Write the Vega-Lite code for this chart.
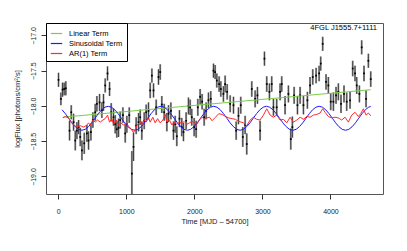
{
"$schema": "https://vega.github.io/schema/vega-lite/v6.json",
"width": 337, "height": 171,
"autosize": {"type": "none"},
"padding": {"left": 46, "top": 23, "right": 24, "bottom": 57},
"background": "white",
"title": {"text": "4FGL J1555.7+1111", "anchor": "end", "frame": "group", "offset": -9, "dx": -6, "fontSize": 7.5, "fontWeight": "normal", "font": "Liberation Sans", "color": "black"},
"config": {
  "font": "Liberation Sans",
  "view": {"stroke": "#555", "strokeWidth": 1},
  "legend": {"orient": "top-left", "offset": 0, "symbolType": "stroke", "symbolSize": 130, "symbolStrokeWidth": 1.2, "labelFontSize": 7.5, "labelColor": "black", "strokeColor": "black", "fillColor": "white", "padding": 4, "rowPadding": -2, "labelOffset": 6, "labelLimit": 0, "cornerRadius": 0}
},
"datasets": {
"pts": [
{"t":4,"v":-17.63,"e":0.10},{"t":39,"v":-17.90,"e":0.09},{"t":63,"v":-17.77,"e":0.10},{"t":87,"v":-17.76,"e":0.09},{"t":111,"v":-17.75,"e":0.10},
{"t":166,"v":-18.35,"e":0.14},{"t":191,"v":-18.09,"e":0.10},{"t":225,"v":-18.23,"e":0.12},{"t":250,"v":-18.49,"e":0.14},{"t":274,"v":-18.35,"e":0.12},
{"t":299,"v":-18.30,"e":0.10},{"t":323,"v":-18.44,"e":0.13},{"t":348,"v":-18.63,"e":0.14},{"t":382,"v":-18.53,"e":0.15},{"t":421,"v":-18.39,"e":0.12},
{"t":445,"v":-18.49,"e":0.13},{"t":480,"v":-18.37,"e":0.12},{"t":509,"v":-18.20,"e":0.11},{"t":543,"v":-18.09,"e":0.12},{"t":568,"v":-17.97,"e":0.11},
{"t":607,"v":-17.95,"e":0.12},{"t":641,"v":-18.06,"e":0.11},{"t":665,"v":-17.95,"e":0.12},{"t":690,"v":-17.71,"e":0.10},{"t":724,"v":-17.54,"e":0.10},
{"t":754,"v":-17.76,"e":0.10},{"t":778,"v":-18.09,"e":0.13},{"t":812,"v":-18.16,"e":0.12},{"t":837,"v":-18.26,"e":0.13},{"t":861,"v":-18.33,"e":0.12},
{"t":886,"v":-18.31,"e":0.13},{"t":910,"v":-18.20,"e":0.12},{"t":950,"v":-18.13,"e":0.11},{"t":984,"v":-18.39,"e":0.13},{"t":1008,"v":-18.26,"e":0.12},
{"t":1043,"v":-18.13,"e":0.11},{"t":1082,"v":-18.96,"e":0.32},{"t":1106,"v":-18.58,"e":0.20},{"t":1145,"v":-18.28,"e":0.12},{"t":1180,"v":-18.23,"e":0.13},
{"t":1204,"v":-18.16,"e":0.11},{"t":1228,"v":-18.35,"e":0.13},{"t":1263,"v":-18.21,"e":0.12},{"t":1292,"v":-18.09,"e":0.11},{"t":1326,"v":-18.07,"e":0.12},
{"t":1351,"v":-17.78,"e":0.11},{"t":1376,"v":-17.57,"e":0.10},{"t":1400,"v":-17.78,"e":0.10},{"t":1439,"v":-18.02,"e":0.11},{"t":1473,"v":-17.59,"e":0.11},
{"t":1498,"v":-17.52,"e":0.11},{"t":1522,"v":-17.98,"e":0.12},{"t":1557,"v":-18.09,"e":0.12},{"t":1596,"v":-18.23,"e":0.13},{"t":1620,"v":-18.11,"e":0.12},
{"t":1655,"v":-18.07,"e":0.12},{"t":1693,"v":-18.35,"e":0.13},{"t":1718,"v":-18.26,"e":0.12},{"t":1742,"v":-18.43,"e":0.14},{"t":1781,"v":-18.18,"e":0.12},
{"t":1815,"v":-18.30,"e":0.13},{"t":1840,"v":-18.37,"e":0.13},{"t":1879,"v":-18.21,"e":0.12},{"t":1913,"v":-18.00,"e":0.12},{"t":1938,"v":-18.02,"e":0.11},
{"t":1962,"v":-18.16,"e":0.12},{"t":1997,"v":-18.30,"e":0.13},{"t":2026,"v":-18.33,"e":0.12},{"t":2051,"v":-18.02,"e":0.12},{"t":2085,"v":-17.87,"e":0.11},
{"t":2114,"v":-17.94,"e":0.11},{"t":2144,"v":-18.16,"e":0.12},{"t":2173,"v":-18.07,"e":0.12},{"t":2207,"v":-17.92,"e":0.11},{"t":2241,"v":-17.90,"e":0.11},
{"t":2281,"v":-17.50,"e":0.10},{"t":2305,"v":-17.52,"e":0.10},{"t":2330,"v":-17.64,"e":0.10},{"t":2364,"v":-17.69,"e":0.11},{"t":2389,"v":-17.76,"e":0.11},
{"t":2427,"v":-17.83,"e":0.11},{"t":2452,"v":-17.69,"e":0.12},{"t":2482,"v":-17.80,"e":0.11},{"t":2526,"v":-17.97,"e":0.12},{"t":2575,"v":-17.99,"e":0.12},
{"t":2614,"v":-18.35,"e":0.13},{"t":2648,"v":-18.14,"e":0.12},{"t":2682,"v":-17.99,"e":0.12},{"t":2712,"v":-18.44,"e":0.14},{"t":2746,"v":-18.27,"e":0.13},
{"t":2770,"v":-18.54,"e":0.15},{"t":2844,"v":-17.76,"e":0.11},{"t":2893,"v":-17.90,"e":0.12},{"t":2927,"v":-17.85,"e":0.12},{"t":2966,"v":-18.35,"e":0.14},
{"t":3030,"v":-17.33,"e":0.10},{"t":3064,"v":-17.69,"e":0.11},{"t":3103,"v":-17.80,"e":0.12},{"t":3137,"v":-17.69,"e":0.11},{"t":3162,"v":-18.02,"e":0.12},
{"t":3210,"v":-18.02,"e":0.12},{"t":3260,"v":-17.80,"e":0.12},{"t":3284,"v":-17.69,"e":0.11},{"t":3333,"v":-17.99,"e":0.13},{"t":3382,"v":-17.83,"e":0.12},
{"t":3417,"v":-18.47,"e":0.15},{"t":3440,"v":-18.30,"e":0.15},{"t":3466,"v":-17.85,"e":0.12},{"t":3515,"v":-17.99,"e":0.13},{"t":3554,"v":-17.85,"e":0.12},
{"t":3603,"v":-17.99,"e":0.13},{"t":3661,"v":-17.92,"e":0.12},{"t":3700,"v":-17.71,"e":0.12},{"t":3740,"v":-17.59,"e":0.11},{"t":3789,"v":-17.57,"e":0.11},
{"t":3833,"v":-17.54,"e":0.11},{"t":3857,"v":-17.40,"e":0.10},{"t":3886,"v":-17.12,"e":0.10},{"t":3935,"v":-17.66,"e":0.11},{"t":3969,"v":-17.71,"e":0.12},
{"t":4004,"v":-17.94,"e":0.12},{"t":4043,"v":-17.94,"e":0.13},{"t":4082,"v":-17.85,"e":0.12},{"t":4116,"v":-17.80,"e":0.12},{"t":4155,"v":-17.97,"e":0.13},
{"t":4199,"v":-17.83,"e":0.12},{"t":4239,"v":-17.94,"e":0.13},{"t":4288,"v":-17.92,"e":0.12},{"t":4327,"v":-17.47,"e":0.11},{"t":4361,"v":-17.54,"e":0.11},
{"t":4386,"v":-17.71,"e":0.12},{"t":4425,"v":-17.83,"e":0.12},{"t":4459,"v":-17.17,"e":0.10},{"t":4493,"v":-17.54,"e":0.11},{"t":4523,"v":-17.90,"e":0.12},
{"t":4557,"v":-17.36,"e":0.10},{"t":4592,"v":-17.62,"e":0.11}
],
"curves": [
{"term":"Linear Term","t":63,"v":-18.16},{"term":"Linear Term","t":4592,"v":-17.77},
{"term":"Sinusoidal Term","t":56,"v":-18.055},{"term":"Sinusoidal Term","t":104,"v":-18.110},{"term":"Sinusoidal Term","t":153,"v":-18.175},{"term":"Sinusoidal Term","t":201,"v":-18.240},
{"term":"Sinusoidal Term","t":250,"v":-18.295},{"term":"Sinusoidal Term","t":298,"v":-18.332},{"term":"Sinusoidal Term","t":347,"v":-18.345},{"term":"Sinusoidal Term","t":395,"v":-18.332},
{"term":"Sinusoidal Term","t":443,"v":-18.295},{"term":"Sinusoidal Term","t":492,"v":-18.240},{"term":"Sinusoidal Term","t":540,"v":-18.175},{"term":"Sinusoidal Term","t":589,"v":-18.110},
{"term":"Sinusoidal Term","t":637,"v":-18.055},{"term":"Sinusoidal Term","t":686,"v":-18.018},
{"term":"Sinusoidal Term","t":734,"v":-18.005},{"term":"Sinusoidal Term","t":782,"v":-18.018},{"term":"Sinusoidal Term","t":831,"v":-18.055},{"term":"Sinusoidal Term","t":879,"v":-18.110},
{"term":"Sinusoidal Term","t":928,"v":-18.175},{"term":"Sinusoidal Term","t":976,"v":-18.240},{"term":"Sinusoidal Term","t":1025,"v":-18.295},{"term":"Sinusoidal Term","t":1073,"v":-18.332},
{"term":"Sinusoidal Term","t":1122,"v":-18.345},{"term":"Sinusoidal Term","t":1170,"v":-18.332},{"term":"Sinusoidal Term","t":1218,"v":-18.295},{"term":"Sinusoidal Term","t":1267,"v":-18.240},
{"term":"Sinusoidal Term","t":1315,"v":-18.175},{"term":"Sinusoidal Term","t":1364,"v":-18.110},{"term":"Sinusoidal Term","t":1412,"v":-18.055},{"term":"Sinusoidal Term","t":1461,"v":-18.018},
{"term":"Sinusoidal Term","t":1509,"v":-18.005},{"term":"Sinusoidal Term","t":1557,"v":-18.018},{"term":"Sinusoidal Term","t":1606,"v":-18.055},{"term":"Sinusoidal Term","t":1654,"v":-18.110},
{"term":"Sinusoidal Term","t":1703,"v":-18.175},{"term":"Sinusoidal Term","t":1751,"v":-18.240},{"term":"Sinusoidal Term","t":1800,"v":-18.295},{"term":"Sinusoidal Term","t":1848,"v":-18.332},
{"term":"Sinusoidal Term","t":1897,"v":-18.345},{"term":"Sinusoidal Term","t":1945,"v":-18.332},{"term":"Sinusoidal Term","t":1993,"v":-18.295},{"term":"Sinusoidal Term","t":2042,"v":-18.240},
{"term":"Sinusoidal Term","t":2090,"v":-18.175},{"term":"Sinusoidal Term","t":2139,"v":-18.110},{"term":"Sinusoidal Term","t":2187,"v":-18.055},{"term":"Sinusoidal Term","t":2236,"v":-18.018},
{"term":"Sinusoidal Term","t":2284,"v":-18.005},{"term":"Sinusoidal Term","t":2332,"v":-18.018},{"term":"Sinusoidal Term","t":2381,"v":-18.055},{"term":"Sinusoidal Term","t":2429,"v":-18.110},
{"term":"Sinusoidal Term","t":2478,"v":-18.175},{"term":"Sinusoidal Term","t":2526,"v":-18.240},{"term":"Sinusoidal Term","t":2575,"v":-18.295},{"term":"Sinusoidal Term","t":2623,"v":-18.332},
{"term":"Sinusoidal Term","t":2672,"v":-18.345},{"term":"Sinusoidal Term","t":2720,"v":-18.332},{"term":"Sinusoidal Term","t":2768,"v":-18.295},{"term":"Sinusoidal Term","t":2817,"v":-18.240},
{"term":"Sinusoidal Term","t":2865,"v":-18.175},{"term":"Sinusoidal Term","t":2914,"v":-18.110},{"term":"Sinusoidal Term","t":2962,"v":-18.055},{"term":"Sinusoidal Term","t":3011,"v":-18.018},
{"term":"Sinusoidal Term","t":3059,"v":-18.005},{"term":"Sinusoidal Term","t":3107,"v":-18.018},{"term":"Sinusoidal Term","t":3156,"v":-18.055},{"term":"Sinusoidal Term","t":3204,"v":-18.110},
{"term":"Sinusoidal Term","t":3253,"v":-18.175},{"term":"Sinusoidal Term","t":3301,"v":-18.240},{"term":"Sinusoidal Term","t":3350,"v":-18.295},{"term":"Sinusoidal Term","t":3398,"v":-18.332},
{"term":"Sinusoidal Term","t":3447,"v":-18.345},{"term":"Sinusoidal Term","t":3495,"v":-18.332},{"term":"Sinusoidal Term","t":3543,"v":-18.295},{"term":"Sinusoidal Term","t":3592,"v":-18.240},
{"term":"Sinusoidal Term","t":3640,"v":-18.175},{"term":"Sinusoidal Term","t":3689,"v":-18.110},{"term":"Sinusoidal Term","t":3737,"v":-18.055},{"term":"Sinusoidal Term","t":3786,"v":-18.018},
{"term":"Sinusoidal Term","t":3834,"v":-18.005},{"term":"Sinusoidal Term","t":3882,"v":-18.018},{"term":"Sinusoidal Term","t":3931,"v":-18.055},{"term":"Sinusoidal Term","t":3979,"v":-18.110},
{"term":"Sinusoidal Term","t":4028,"v":-18.175},{"term":"Sinusoidal Term","t":4076,"v":-18.240},{"term":"Sinusoidal Term","t":4125,"v":-18.295},{"term":"Sinusoidal Term","t":4173,"v":-18.332},
{"term":"Sinusoidal Term","t":4222,"v":-18.345},{"term":"Sinusoidal Term","t":4270,"v":-18.332},{"term":"Sinusoidal Term","t":4318,"v":-18.295},{"term":"Sinusoidal Term","t":4367,"v":-18.240},
{"term":"Sinusoidal Term","t":4415,"v":-18.175},{"term":"Sinusoidal Term","t":4464,"v":-18.110},{"term":"Sinusoidal Term","t":4512,"v":-18.055},{"term":"Sinusoidal Term","t":4561,"v":-18.018},
{"term":"Sinusoidal Term","t":4592,"v":-18.008},
{"term":"AR(1) Term","t":69,"v":-18.17},{"term":"AR(1) Term","t":103,"v":-18.15},{"term":"AR(1) Term","t":152,"v":-18.17},{"term":"AR(1) Term","t":186,"v":-18.23},
{"term":"AR(1) Term","t":225,"v":-18.27},{"term":"AR(1) Term","t":274,"v":-18.30},{"term":"AR(1) Term","t":323,"v":-18.28},{"term":"AR(1) Term","t":372,"v":-18.30},
{"term":"AR(1) Term","t":411,"v":-18.28},{"term":"AR(1) Term","t":445,"v":-18.24},{"term":"AR(1) Term","t":470,"v":-18.27},{"term":"AR(1) Term","t":509,"v":-18.20},
{"term":"AR(1) Term","t":543,"v":-18.23},{"term":"AR(1) Term","t":577,"v":-18.20},{"term":"AR(1) Term","t":617,"v":-18.23},{"term":"AR(1) Term","t":656,"v":-18.20},
{"term":"AR(1) Term","t":690,"v":-18.18},{"term":"AR(1) Term","t":724,"v":-18.13},{"term":"AR(1) Term","t":754,"v":-18.23},{"term":"AR(1) Term","t":788,"v":-18.18},
{"term":"AR(1) Term","t":812,"v":-18.26},{"term":"AR(1) Term","t":851,"v":-18.20},{"term":"AR(1) Term","t":886,"v":-18.27},{"term":"AR(1) Term","t":920,"v":-18.24},
{"term":"AR(1) Term","t":959,"v":-18.27},{"term":"AR(1) Term","t":998,"v":-18.24},{"term":"AR(1) Term","t":1033,"v":-18.29},{"term":"AR(1) Term","t":1067,"v":-18.32},
{"term":"AR(1) Term","t":1106,"v":-18.38},{"term":"AR(1) Term","t":1136,"v":-18.32},{"term":"AR(1) Term","t":1165,"v":-18.26},{"term":"AR(1) Term","t":1204,"v":-18.23},
{"term":"AR(1) Term","t":1228,"v":-18.27},{"term":"AR(1) Term","t":1263,"v":-18.20},{"term":"AR(1) Term","t":1292,"v":-18.23},{"term":"AR(1) Term","t":1326,"v":-18.17},
{"term":"AR(1) Term","t":1351,"v":-18.23},{"term":"AR(1) Term","t":1390,"v":-18.16},{"term":"AR(1) Term","t":1424,"v":-18.24},{"term":"AR(1) Term","t":1459,"v":-18.18},
{"term":"AR(1) Term","t":1498,"v":-18.24},{"term":"AR(1) Term","t":1537,"v":-18.20},{"term":"AR(1) Term","t":1571,"v":-18.12},{"term":"AR(1) Term","t":1596,"v":-18.23},
{"term":"AR(1) Term","t":1635,"v":-18.20},{"term":"AR(1) Term","t":1669,"v":-18.27},{"term":"AR(1) Term","t":1704,"v":-18.23},{"term":"AR(1) Term","t":1742,"v":-18.26},
{"term":"AR(1) Term","t":1781,"v":-18.23},{"term":"AR(1) Term","t":1815,"v":-18.25},{"term":"AR(1) Term","t":1850,"v":-18.22},{"term":"AR(1) Term","t":1889,"v":-18.26},
{"term":"AR(1) Term","t":1928,"v":-18.24},{"term":"AR(1) Term","t":1962,"v":-18.22},{"term":"AR(1) Term","t":1997,"v":-18.24},{"term":"AR(1) Term","t":2036,"v":-18.26},
{"term":"AR(1) Term","t":2075,"v":-18.20},{"term":"AR(1) Term","t":2114,"v":-18.16},{"term":"AR(1) Term","t":2144,"v":-18.19},{"term":"AR(1) Term","t":2183,"v":-18.17},
{"term":"AR(1) Term","t":2222,"v":-18.16},{"term":"AR(1) Term","t":2261,"v":-18.21},{"term":"AR(1) Term","t":2310,"v":-18.16},{"term":"AR(1) Term","t":2359,"v":-18.11},
{"term":"AR(1) Term","t":2408,"v":-18.12},{"term":"AR(1) Term","t":2457,"v":-18.15},{"term":"AR(1) Term","t":2506,"v":-18.17},{"term":"AR(1) Term","t":2555,"v":-18.18},
{"term":"AR(1) Term","t":2604,"v":-18.19},{"term":"AR(1) Term","t":2653,"v":-18.22},{"term":"AR(1) Term","t":2722,"v":-18.24},{"term":"AR(1) Term","t":2770,"v":-18.28},
{"term":"AR(1) Term","t":2819,"v":-18.20},{"term":"AR(1) Term","t":2868,"v":-18.16},{"term":"AR(1) Term","t":2917,"v":-18.19},{"term":"AR(1) Term","t":2966,"v":-18.20},
{"term":"AR(1) Term","t":3015,"v":-18.13},{"term":"AR(1) Term","t":3064,"v":-18.04},{"term":"AR(1) Term","t":3113,"v":-18.13},{"term":"AR(1) Term","t":3162,"v":-18.16},
{"term":"AR(1) Term","t":3210,"v":-18.13},{"term":"AR(1) Term","t":3260,"v":-18.20},{"term":"AR(1) Term","t":3309,"v":-18.19},{"term":"AR(1) Term","t":3358,"v":-18.24},
{"term":"AR(1) Term","t":3407,"v":-18.16},{"term":"AR(1) Term","t":3456,"v":-18.23},{"term":"AR(1) Term","t":3505,"v":-18.20},{"term":"AR(1) Term","t":3554,"v":-18.16},
{"term":"AR(1) Term","t":3603,"v":-18.19},{"term":"AR(1) Term","t":3652,"v":-18.15},{"term":"AR(1) Term","t":3700,"v":-18.16},{"term":"AR(1) Term","t":3750,"v":-18.13},
{"term":"AR(1) Term","t":3799,"v":-18.12},{"term":"AR(1) Term","t":3848,"v":-18.10},{"term":"AR(1) Term","t":3886,"v":-18.04},{"term":"AR(1) Term","t":3920,"v":-18.09},
{"term":"AR(1) Term","t":3969,"v":-18.15},{"term":"AR(1) Term","t":4018,"v":-18.17},{"term":"AR(1) Term","t":4067,"v":-18.16},{"term":"AR(1) Term","t":4116,"v":-18.17},
{"term":"AR(1) Term","t":4165,"v":-18.20},{"term":"AR(1) Term","t":4214,"v":-18.16},{"term":"AR(1) Term","t":4263,"v":-18.23},{"term":"AR(1) Term","t":4312,"v":-18.13},
{"term":"AR(1) Term","t":4361,"v":-18.09},{"term":"AR(1) Term","t":4410,"v":-18.15},{"term":"AR(1) Term","t":4444,"v":-18.11},{"term":"AR(1) Term","t":4484,"v":-18.04},
{"term":"AR(1) Term","t":4523,"v":-18.13},{"term":"AR(1) Term","t":4557,"v":-18.10},{"term":"AR(1) Term","t":4592,"v":-18.14}
]
},
"encoding": {
  "x": {"field": "t", "type": "quantitative", "scale": {"domain": [-180, 4772], "nice": false, "zero": false},
        "axis": {"values": [0, 1000, 2000, 3000, 4000], "format": "d", "title": "Time [MJD – 54700]", "domain": false, "grid": false, "ticks": true, "tickSize": 5, "tickColor": "#333", "labelFontSize": 7, "labelColor": "#222", "labelPadding": 8, "titleFontSize": 7.5, "titleFontWeight": "normal", "titleColor": "#222", "titlePadding": 3}},
  "y": {"field": "v", "type": "quantitative", "scale": {"domain": [-19.248, -16.825], "nice": false, "zero": false},
        "axis": {"values": [-19, -18.5, -18, -17.5, -17], "format": ".1f", "title": "logFlux [photons/cm²/s]", "domain": false, "grid": false, "tickSize": 5, "tickColor": "#333", "labelAngle": 270, "labelAlign": "center", "labelBaseline": "bottom", "labelPadding": 5, "labelFontSize": 7, "labelColor": "#222", "titleFontSize": 7.5, "titleFontWeight": "normal", "titleColor": "#222", "titlePadding": 8}}
},
"layer": [
  {"data": {"name": "pts"}, "mark": {"type": "errorbar", "color": "#a0a0a0", "thickness": 2, "clip": true}, "encoding": {"yError": {"field": "e"}}},
  {"data": {"name": "pts"}, "mark": {"type": "errorbar", "color": "#000", "thickness": 0.6, "clip": true}, "encoding": {"yError": {"field": "e"}}},
  {"data": {"name": "pts"}, "mark": {"type": "square", "size": 3, "color": "black", "filled": true, "opacity": 1, "clip": true}},
  {"data": {"name": "curves"}, "mark": {"type": "line", "strokeWidth": 1, "clip": true},
   "encoding": {"color": {"field": "term", "type": "nominal", "scale": {"domain": ["Linear Term", "Sinusoidal Term", "AR(1) Term"], "range": ["#7CCD4A", "#1a1aff", "#ff2a2a"]}, "legend": {"title": null}}}}
]
}
